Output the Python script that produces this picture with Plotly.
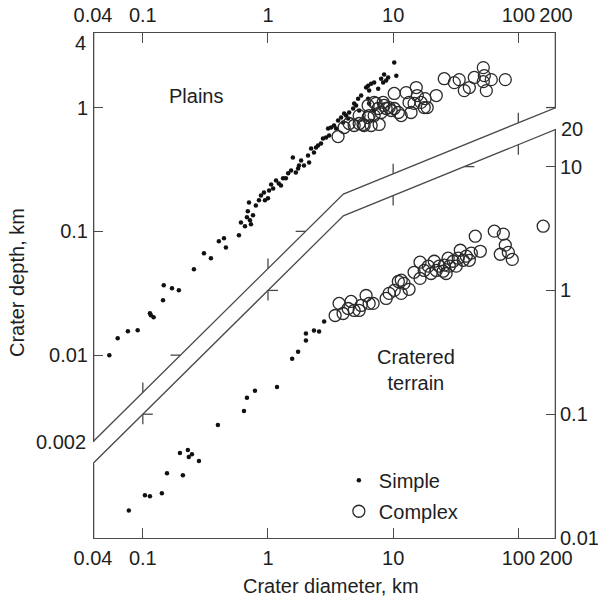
import numpy as np
import plotly.graph_objects as go

# ---------------- data ----------------
# Plains, simple craters (diameter km, depth km; left axis)
plains_simple_D = [0.054, 0.063, 0.076, 0.091, 0.114, 0.116, 0.122, 0.145, 0.147, 0.171,
                   0.194, 0.256, 0.308, 0.35, 0.405, 0.445, 0.461, 0.586, 0.679, 0.69,
                   0.718, 0.759, 0.731, 0.705, 0.879, 0.929, 1.0, 0.946, 1.10, 1.16,
                   1.22, 1.32, 1.06, 1.45, 1.53, 1.58, 1.67, 1.74, 1.77, 2.09,
                   2.13, 2.21, 2.33, 2.42, 2.51, 2.75, 2.91, 3.02, 3.19, 3.37,
                   3.63, 3.84, 4.06, 4.21, 4.37, 4.79, 4.88, 5.25, 5.55, 6.08,
                   6.31, 6.67, 7.05, 7.59, 8.02, 8.32, 8.79, 9.12, 10.2, 10.6,
                   8.47, 6.31, 6.43, 6.92, 6.43, 0.80, 0.847, 1.02, 1.27, 1.39,
                   1.84, 1.94, 2.65, 3.08, 3.5, 3.98, 4.45, 5.06, 5.35, 0.608,
                   0.655]
plains_simple_d = [0.010, 0.0137, 0.0156, 0.0159, 0.0218, 0.021, 0.0202, 0.0278, 0.0367, 0.0347,
                   0.0334, 0.0494, 0.0665, 0.0606, 0.083, 0.088, 0.074, 0.093, 0.130, 0.145,
                   0.123, 0.135, 0.114, 0.171, 0.195, 0.206, 0.185, 0.178, 0.222, 0.258,
                   0.244, 0.268, 0.239, 0.294, 0.31, 0.395, 0.299, 0.322, 0.34, 0.41,
                   0.36, 0.467, 0.434, 0.476, 0.494, 0.562, 0.573, 0.677, 0.69, 0.716,
                   0.786, 0.83, 0.895, 0.861, 0.815, 0.982, 1.077, 1.18, 1.25, 1.45,
                   1.50, 1.56, 1.59, 1.42, 1.71, 1.59, 1.65, 1.75, 2.31, 1.81,
                   1.85, 1.18, 1.08, 0.946, 1.37, 0.162, 0.178, 0.214, 0.235, 0.268,
                   0.374, 0.34, 0.513, 0.595, 0.677, 0.757, 0.912, 1.04, 0.946, 0.118,
                   0.11]

# Plains, complex craters (left axis)
plains_complex_D = [3.63, 4.06, 4.45, 4.88, 5.35, 5.86, 6.67, 7.73, 6.31, 7.05,
                    8.02, 8.79, 9.29, 10.2, 11.0, 6.31, 7.05, 8.32, 7.59, 8.47,
                    10.2, 12.7, 15.3, 15.6, 13.4, 14.7, 16.7, 18.0, 17.7, 13.9,
                    22.1, 25.6, 30.8, 33.7, 37.0, 40.6, 44.5, 52.5, 53.5, 55.5,
                    60.8, 52.5, 78.7, 5.75, 6.43, 9.64, 18.7, 7.31, 11.6, 5.35]
plains_complex_d = [0.583, 0.69, 0.743, 0.716, 0.743, 0.716, 0.716, 0.73, 0.83, 0.861,
                    0.912, 0.982, 1.0, 0.982, 0.912, 1.04, 1.10, 1.10, 0.982, 1.04,
                    1.30, 1.32, 1.45, 1.25, 1.10, 1.08, 1.10, 1.18, 1.0, 0.912,
                    1.25, 1.71, 1.59, 1.68, 1.37, 1.45, 1.75, 2.10, 1.81, 1.37,
                    1.68, 1.62, 1.68, 0.73, 0.861, 0.946, 1.0, 1.08, 0.861, 0.861]

# Cratered terrain, simple craters (right axis)
terrain_simple_D = [0.0773, 0.104, 0.114, 0.142, 0.156, 0.209, 0.198, 0.229, 0.247, 0.233,
                    0.281, 0.398, 0.643, 0.679, 0.787, 1.18, 1.56, 1.74, 2.01, 2.01,
                    2.33, 2.56, 2.81]
terrain_simple_d = [0.0167, 0.0222, 0.0217, 0.023, 0.0334, 0.0322, 0.0485, 0.0513, 0.0476, 0.0451,
                    0.0418, 0.0819, 0.106, 0.136, 0.155, 0.166, 0.281, 0.32, 0.448, 0.393,
                    0.474, 0.465, 0.561]

# Cratered terrain, complex craters (right axis)
terrain_complex_D = [3.44, 3.98, 3.70, 4.61, 4.37, 4.88, 5.35, 5.55, 6.08, 6.43,
                     6.92, 9.29, 10.2, 11.0, 11.6, 12.2, 11.6, 13.4, 14.7, 16.4,
                     16.4, 17.7, 19.1, 20.1, 21.3, 22.1, 23.3, 25.1, 25.6, 27.5,
                     28.1, 30.2, 31.9, 33.1, 34.4, 36.3, 38.4, 40.6, 42.1, 45.3,
                     49.7, 64.3, 75.9, 78.7, 71.8, 83.2, 89.5, 158, 8.79, 26.5]
terrain_complex_d = [0.627, 0.651, 0.785, 0.814, 0.714, 0.689, 0.689, 0.756, 0.91, 0.785,
                     0.785, 0.946, 1.0, 1.18, 1.21, 1.14, 0.946, 1.02, 1.40, 1.25,
                     1.69, 1.45, 1.57, 1.37, 1.72, 1.45, 1.57, 1.43, 1.60, 1.82,
                     1.57, 1.72, 1.57, 1.82, 2.11, 1.75, 1.89, 1.75, 2.0, 2.74,
                     2.07, 3.01, 2.85, 2.32, 1.96, 2.03, 1.78, 3.30, 0.861, 1.37]

# Boundary band between the two panels (vertices)
band_D = [0.04, 4, 200]
band_upper_depth = [0.002, 0.2, 1.0]   # on the plains (left) depth scale
band_lower_depth = [0.04, 4, 20]       # on the cratered-terrain (right) depth scale

# Tick labels
x_tickvals = [0.04, 0.1, 1, 10, 100, 200]
x_ticktext = ["0.04", "0.1", "1", "10", "100", "200"]
left_tickvals = [1, 0.1, 0.01]
left_ticktext = ["1", "0.1", "0.01"]
right_tickvals = [10, 1, 0.1, 0.01]
right_ticktext = ["10", "1", "0.1", "0.01"]
inner_x_ticks = [0.1, 1, 10, 100]
inner_upper_y_ticks = [0.01, 0.1, 1]
inner_lower_y_ticks = [0.1, 1, 10]

# ---------------- layout constants ----------------
W, H = 598, 600
ML, MR, MT, MB = 93, 42, 33, 62
PW, PH = W - ML - MR, H - MT - MB
XR = [np.log10(0.04), np.log10(200)]
YL = [-3.477, np.log10(4)]
SHIFT = np.log10(30)
YR = [YL[0] + SHIFT, YL[1] + SHIFT]
px_x = PW / (XR[1] - XR[0])
px_y = PH / (YL[1] - YL[0])
TL = 10  # tick length px
dx = TL / px_x
dy = TL / px_y

FONT = "Liberation Sans, Arial, Helvetica, sans-serif"
TXT = "#1e1e1e"
LINE = "#4a4a4a"
LW = 1.3


def band_at(D, depths):
    return 10 ** np.interp(np.log10(D), np.log10(band_D), np.log10(depths))


def band_inv(d, depths):
    return 10 ** np.interp(np.log10(d), np.log10(depths), np.log10(band_D))


def segs(pairs):
    xs, ys = [], []
    for (x0, y0), (x1, y1) in pairs:
        xs += [x0, x1, None]
        ys += [y0, y1, None]
    return xs, ys


fig = go.Figure()

# band lines
fig.add_trace(go.Scatter(x=band_D, y=band_upper_depth, mode="lines", yaxis="y",
                         line=dict(color=LINE, width=LW), showlegend=False, hoverinfo="skip"))
fig.add_trace(go.Scatter(x=band_D, y=band_lower_depth, mode="lines", yaxis="y2",
                         line=dict(color=LINE, width=LW), showlegend=False, hoverinfo="skip"))

# left / right frame pieces (drawn at plot edge, half clipped -> double width)
fx, fy = segs([((band_D[0], 4), (band_D[0], band_upper_depth[0])),
               ((band_D[-1], 4), (band_D[-1], band_upper_depth[-1]))])
fig.add_trace(go.Scatter(x=fx, y=fy, mode="lines", yaxis="y",
                         line=dict(color=LINE, width=2 * LW), showlegend=False, hoverinfo="skip"))
fx, fy = segs([((band_D[0], band_lower_depth[0]), (band_D[0], 0.01)),
               ((band_D[-1], band_lower_depth[-1]), (band_D[-1], 0.01))])
fig.add_trace(go.Scatter(x=fx, y=fy, mode="lines", yaxis="y2",
                         line=dict(color=LINE, width=2 * LW), showlegend=False, hoverinfo="skip"))

# inner ticks on upper band line (plains panel)
up_pairs = []
for D in inner_x_ticks:
    d0 = band_at(D, band_upper_depth)
    up_pairs.append(((D, d0), (D, d0 * 10 ** dy)))
for d in inner_upper_y_ticks:
    D0 = band_inv(d, band_upper_depth)
    up_pairs.append(((D0, d), (D0 / 10 ** dx, d)))
tx, ty = segs(up_pairs)
fig.add_trace(go.Scatter(x=tx, y=ty, mode="lines", yaxis="y",
                         line=dict(color=LINE, width=LW), showlegend=False, hoverinfo="skip"))

# inner ticks on lower band line (cratered terrain panel)
lo_pairs = []
for D in inner_x_ticks:
    d0 = band_at(D, band_lower_depth)
    lo_pairs.append(((D, d0), (D, d0 / 10 ** dy)))
for d in inner_lower_y_ticks:
    D0 = band_inv(d, band_lower_depth)
    lo_pairs.append(((D0, d), (D0 * 10 ** dx, d)))
tx, ty = segs(lo_pairs)
fig.add_trace(go.Scatter(x=tx, y=ty, mode="lines", yaxis="y2",
                         line=dict(color=LINE, width=LW), showlegend=False, hoverinfo="skip"))

# data
dot = dict(color="#111111", size=4.5, symbol="circle")
ring = dict(color="#2a2a2a", size=12, symbol="circle-open", line=dict(width=1.3, color="#2a2a2a"))

fig.add_trace(go.Scatter(x=plains_simple_D, y=plains_simple_d, mode="markers", yaxis="y",
                         marker=dot, name="Simple", legendgroup="s"))
fig.add_trace(go.Scatter(x=plains_complex_D, y=plains_complex_d, mode="markers", yaxis="y",
                         marker=ring, name="Complex", legendgroup="c"))
fig.add_trace(go.Scatter(x=terrain_simple_D, y=terrain_simple_d, mode="markers", yaxis="y2",
                         marker=dot, name="Simple", legendgroup="s", showlegend=False))
fig.add_trace(go.Scatter(x=terrain_complex_D, y=terrain_complex_d, mode="markers", yaxis="y2",
                         marker=ring, name="Complex", legendgroup="c", showlegend=False))

# invisible trace to activate top axis
fig.add_trace(go.Scatter(x=[0.04, 200], y=[4, 4], xaxis="x2", yaxis="y", mode="lines",
                         line=dict(width=0), opacity=0, showlegend=False, hoverinfo="skip"))

axis_common = dict(type="log", ticks="inside", ticklen=TL, tickwidth=LW, tickcolor=LINE,
                   showgrid=False, zeroline=False, automargin=False,
                   tickfont=dict(family=FONT, size=20, color=TXT))

fig.update_layout(
    width=W, height=H,
    margin=dict(l=ML, r=MR, t=MT, b=MB, pad=0, autoexpand=False),
    paper_bgcolor="white", plot_bgcolor="white",
    font=dict(family=FONT, size=20, color=TXT),
    xaxis=dict(axis_common, range=XR, tickvals=x_tickvals, ticktext=x_ticktext,
               showline=True, linecolor=LINE, linewidth=LW, ticklabelstandoff=2),
    xaxis2=dict(axis_common, range=XR, tickvals=x_tickvals, ticktext=x_ticktext,
                overlaying="x", side="top", anchor="y",
                showline=True, linecolor=LINE, linewidth=LW, ticklabelstandoff=2),
    yaxis=dict(axis_common, range=YL, tickvals=left_tickvals, ticktext=left_ticktext,
               showline=False, ticklabelstandoff=4),
    yaxis2=dict(axis_common, range=YR, tickvals=right_tickvals, ticktext=right_ticktext,
                overlaying="y", side="right", anchor="x",
                showline=False, ticklabelstandoff=3),
    showlegend=True,
    legend=dict(x=0.531, y=0.153, xanchor="left", yanchor="top",
                bgcolor="rgba(0,0,0,0)", borderwidth=0,
                font=dict(family=FONT, size=20, color=TXT),
                traceorder="grouped", tracegroupgap=2, itemsizing="trace"),
    annotations=[
        dict(text="Plains", xref="paper", yref="paper", x=0.222, y=0.875,
             xanchor="center", yanchor="middle",
             showarrow=False, font=dict(size=20, color=TXT)),
        dict(text="Cratered<br>terrain", xref="paper", yref="paper", x=0.698, y=0.333,
             xanchor="center", yanchor="middle",
             showarrow=False, font=dict(size=20, color=TXT)),
        dict(text="Crater diameter, km", xref="paper", yref="paper", x=0.514, y=-0.095,
             xanchor="center", yanchor="middle", showarrow=False,
             font=dict(size=20, color=TXT)),
        dict(text="Crater depth, km", xref="paper", yref="paper", x=-0.164, y=0.505,
             textangle=-90, xanchor="center", yanchor="middle", showarrow=False,
             font=dict(size=20, color=TXT)),
        dict(text="4", xref="paper", yref="y", x=0, y=np.log10(4),
             xanchor="right", yanchor="top", xshift=-5, yshift=3, showarrow=False,
             font=dict(size=20, color=TXT)),
        dict(text="0.002", xref="paper", yref="y", x=0, y=np.log10(0.002),
             xanchor="right", yanchor="middle", xshift=-5, showarrow=False,
             font=dict(size=20, color=TXT)),
        dict(text="20", xref="paper", yref="y2", x=1, y=np.log10(20),
             xanchor="left", yanchor="middle", xshift=3, showarrow=False,
             font=dict(size=20, color=TXT)),
    ],
)

fig.write_html("out.html")
